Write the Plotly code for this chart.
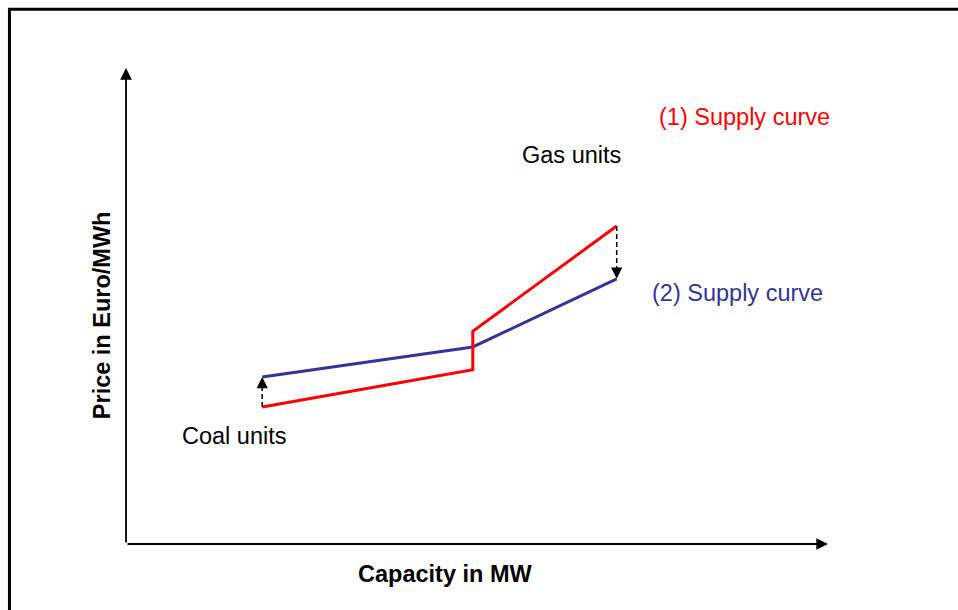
import plotly.graph_objects as go

# Data (capacity in % of axis length, price in % of axis height)
red_capacity = [19.4, 49.4, 49.4, 69.9]
red_price = [28.8, 36.6, 44.7, 66.8]
blue_capacity = [19.4, 49.4, 69.9]
blue_price = [35.1, 41.4, 55.7]

# shift arrows: (capacity, from price, to price)
shift_arrows = [(19.4, 28.8, 35.1), (69.9, 66.8, 55.7)]

labels = [
    ("(1) Supply curve", 88.1, 89.7, "#FF0000"),
    ("Gas units", 63.5, 81.7, "#000000"),
    ("(2) Supply curve", 87.1, 52.7, "#333399"),
    ("Coal units", 15.5, 22.7, "#000000"),
]
x_title = "Capacity in MW"
y_title = "Price in Euro/MWh"

FONT = "Arial, Liberation Sans, sans-serif"
FS = 23.5

fig = go.Figure()
fig.add_trace(go.Scatter(x=blue_capacity, y=blue_price, mode="lines",
                         line=dict(color="#333399", width=3), hoverinfo="skip"))
fig.add_trace(go.Scatter(x=red_capacity, y=red_price, mode="lines",
                         line=dict(color="#FF0000", width=3), hoverinfo="skip"))

annotations = []
for cap, p0, p1 in shift_arrows:
    direction = 1 if p1 > p0 else -1
    fig.add_trace(go.Scatter(x=[cap, cap], y=[p0, p1 - direction * 1.8], mode="lines",
                             line=dict(color="#000000", width=1.5, dash="5px,3px"),
                             hoverinfo="skip"))
    annotations.append(dict(x=cap, y=p1, xref="x", yref="y", ax=0, ay=direction * 10,
                            text="", showarrow=True, arrowhead=2, arrowsize=1.5,
                            arrowwidth=1.5, arrowcolor="#000000", standoff=0))

# axis arrows
for ex, ey in [(100, 0), (0, 100)]:
    annotations.append(dict(x=ex, y=ey, xref="x", yref="y", ax=0, ay=0, axref="x", ayref="y",
                            text="", showarrow=True, arrowhead=2, arrowsize=1.3,
                            arrowwidth=1.8, arrowcolor="#000000", standoff=0))

for txt, x, y, col in labels:
    annotations.append(dict(x=x, y=y, xref="x", yref="y", text=txt, showarrow=False,
                            font=dict(family=FONT, size=FS, color=col),
                            xanchor="center", yanchor="middle"))

annotations.append(dict(x=0.454, y=-0.063, xref="paper", yref="paper",
                        text="<b>" + x_title + "</b>",
                        showarrow=False, font=dict(family=FONT, size=FS, color="#000000"),
                        xanchor="center", yanchor="middle"))
annotations.append(dict(x=-0.034, y=0.481, xref="paper", yref="paper",
                        text="<b>" + y_title + "</b>",
                        showarrow=False, textangle=-90,
                        font=dict(family=FONT, size=FS, color="#000000"),
                        xanchor="center", yanchor="middle"))

shapes = [
    dict(type="line", xref="paper", yref="paper", x0=-0.166, x1=-0.166, y0=-0.3, y1=1.1235,
         line=dict(color="#000000", width=3)),
    dict(type="line", xref="paper", yref="paper", x0=-0.168, x1=1.3, y0=1.1235, y1=1.1235,
         line=dict(color="#000000", width=3)),
]

fig.update_layout(
    width=958, height=610,
    margin=dict(l=126, r=130, t=68, b=66),
    paper_bgcolor="white", plot_bgcolor="white",
    showlegend=False,
    annotations=annotations,
    shapes=shapes,
    xaxis=dict(range=[0, 100], visible=False, fixedrange=True),
    yaxis=dict(range=[0, 100], visible=False, fixedrange=True),
)

fig.write_html(
    "out.html",
    config={"displayModeBar": False},
    post_script="document.body.style.margin='0';document.body.style.overflow='hidden';",
)
